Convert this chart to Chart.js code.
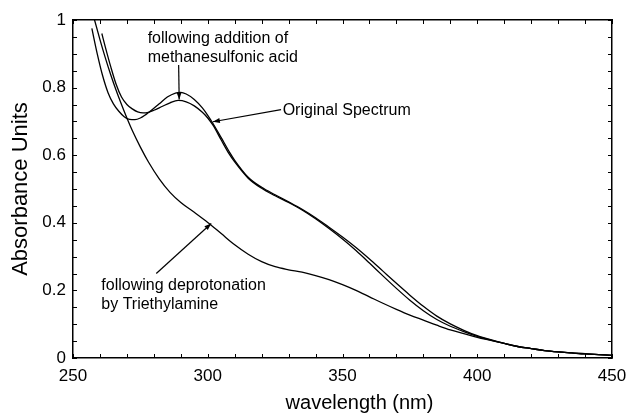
<!DOCTYPE html>
<html>
<head>
<meta charset="utf-8">
<script src="https://cdn.jsdelivr.net/npm/chart.js@4.4.1/dist/chart.umd.min.js"></script>
<style>
  html, body { margin: 0; padding: 0; background: #fff; }
  #wrap { width: 629px; height: 414px; }
</style>
</head>
<body>
<div id="wrap"><canvas id="spectrum"></canvas></div>
<script>
// wavelength (nm) / absorbance pairs
const originalNm = [260.7, 262, 264, 266, 268, 270, 272, 274, 276, 278, 280, 283, 286, 289, 292, 295, 298, 300, 302, 305, 308, 310, 315, 320, 325, 330, 335, 340, 345, 350, 355, 360, 365, 370, 375, 380, 385, 390, 395, 400, 405, 410, 415, 420, 425, 430, 435, 440, 445, 450];
const originalAbs = [0.96, 0.92, 0.862, 0.81, 0.772, 0.75, 0.737, 0.728, 0.725, 0.727, 0.733, 0.744, 0.755, 0.762, 0.758, 0.746, 0.727, 0.71, 0.688, 0.645, 0.603, 0.58, 0.532, 0.502, 0.48, 0.46, 0.438, 0.412, 0.383, 0.352, 0.318, 0.281, 0.243, 0.206, 0.171, 0.14, 0.114, 0.094, 0.078, 0.064, 0.053, 0.043, 0.034, 0.028, 0.022, 0.018, 0.015, 0.012, 0.01, 0.008];

const acidNm = [257, 259, 261, 263, 265, 267, 269, 271, 273, 275, 277, 279, 282, 285, 288, 290, 292, 295, 298, 300, 302, 305, 308, 310, 315, 320, 325, 330, 335, 340, 345, 350, 355, 360, 365, 370, 375, 380, 385, 390, 395, 400, 405, 410, 415, 420, 425, 430, 435, 440, 445, 450];
const acidAbs = [0.975, 0.9, 0.835, 0.785, 0.752, 0.73, 0.714, 0.706, 0.705, 0.71, 0.72, 0.732, 0.752, 0.772, 0.784, 0.786, 0.781, 0.765, 0.74, 0.718, 0.693, 0.652, 0.61, 0.585, 0.535, 0.505, 0.483, 0.462, 0.44, 0.415, 0.387, 0.358, 0.327, 0.293, 0.257, 0.221, 0.186, 0.153, 0.124, 0.101, 0.082, 0.066, 0.054, 0.043, 0.034, 0.028, 0.022, 0.018, 0.015, 0.012, 0.01, 0.008];

const baseNm = [257, 258, 260, 262, 264, 266, 268, 270, 272, 275, 278, 282, 286, 290, 295, 300, 305, 310, 315, 320, 325, 330, 335, 340, 345, 350, 355, 360, 365, 370, 375, 380, 385, 390, 395, 400, 405, 410, 415, 420, 425, 430, 435, 440, 445, 450];
const baseAbs = [1.03, 1.0, 0.942, 0.888, 0.838, 0.792, 0.75, 0.71, 0.673, 0.624, 0.58, 0.53, 0.49, 0.46, 0.431, 0.401, 0.368, 0.335, 0.307, 0.285, 0.27, 0.261, 0.254, 0.244, 0.232, 0.217, 0.2, 0.181, 0.162, 0.144, 0.127, 0.112, 0.097, 0.083, 0.072, 0.061, 0.052, 0.043, 0.034, 0.028, 0.022, 0.018, 0.015, 0.013, 0.01, 0.008];

const xTicks = [250, 300, 350, 400, 450];
const yTicks = [0, 0.2, 0.4, 0.6, 0.8, 1];

// callouts placed in data coordinates
const callouts = [
  { lines: ["following addition of", "methanesulfonic acid"], at: [277.7, 0.945], from: [289.2, 0.867], to: [289.4, 0.765] },
  { lines: ["Original Spectrum"], at: [327.8, 0.733], from: [327.2, 0.735], to: [301.9, 0.699] },
  { lines: ["following deprotonation", "by Triethylamine"], at: [260.5, 0.215], from: [280.9, 0.25], to: [301.3, 0.398] },
];

const FONT = "'Liberation Sans', Arial, Helvetica, sans-serif";

function toPoints(xs, ys) {
  return xs.map((x, i) => ({ x: x, y: ys[i] }));
}

function pickLabel(list) {
  return function (v) {
    const hit = list.find(t => Math.abs(t - v) < 1e-6);
    return hit === undefined ? "" : String(hit);
  };
}

// short inward tick marks on all four sides, taken from each scale's ticks
const innerTicks = {
  id: "innerTicks",
  afterDraw(chart) {
    const { ctx, chartArea: a, scales } = chart;
    const len = 4;
    ctx.save();
    ctx.strokeStyle = "#000";
    ctx.lineWidth = 1;
    ctx.beginPath();
    [["x", a.bottom, -1], ["x2", a.top, 1]].forEach(([id, y0, dir]) => {
      scales[id].ticks.forEach(t => {
        const p = Math.round(scales[id].getPixelForValue(t.value)) + 0.5;
        ctx.moveTo(p, y0);
        ctx.lineTo(p, y0 + dir * len);
      });
    });
    [["y", a.left, 1], ["y2", a.right, -1]].forEach(([id, x0, dir]) => {
      scales[id].ticks.forEach(t => {
        const p = Math.round(scales[id].getPixelForValue(t.value)) + 0.5;
        ctx.moveTo(x0, p);
        ctx.lineTo(x0 + dir * len, p);
      });
    });
    ctx.stroke();
    // x axis title sits a little right of centre in the original
    ctx.fillStyle = "#000";
    ctx.font = "20px " + FONT;
    ctx.textAlign = "center";
    ctx.textBaseline = "middle";
    ctx.fillText("wavelength (nm)", (a.left + a.right) / 2 + 17, chart.height - 11);
    ctx.restore();
  },
};

const calloutPlugin = {
  id: "callouts",
  afterDatasetsDraw(chart) {
    const { ctx, scales } = chart;
    const px = (p) => [scales.x.getPixelForValue(p[0]), scales.y.getPixelForValue(p[1])];
    ctx.save();
    ctx.fillStyle = "#000";
    ctx.strokeStyle = "#000";
    ctx.lineWidth = 1.2;
    ctx.font = "16px " + FONT;
    ctx.textBaseline = "middle";
    ctx.textAlign = "left";
    callouts.forEach(c => {
      const [tx, ty] = px(c.at);
      c.lines.forEach((s, i) => ctx.fillText(s, tx, ty + i * 19.5));
      const [x1, y1] = px(c.from);
      const [x2, y2] = px(c.to);
      ctx.beginPath();
      ctx.moveTo(x1, y1);
      ctx.lineTo(x2, y2);
      ctx.stroke();
      const a = Math.atan2(y2 - y1, x2 - x1);
      ctx.beginPath();
      ctx.moveTo(x2, y2);
      ctx.lineTo(x2 - 7 * Math.cos(a) + 2.5 * Math.sin(a), y2 - 7 * Math.sin(a) - 2.5 * Math.cos(a));
      ctx.lineTo(x2 - 7 * Math.cos(a) - 2.5 * Math.sin(a), y2 - 7 * Math.sin(a) + 2.5 * Math.cos(a));
      ctx.closePath();
      ctx.fill();
    });
    ctx.restore();
  },
};

const noGrid = { display: false, drawTicks: false };
const frameBorder = { display: true, color: "#000", width: 1.5 };

function curve(label, xs, ys) {
  return {
    label: label,
    data: toPoints(xs, ys),
    borderColor: "#000",
    borderWidth: 1.3,
    pointRadius: 0,
    fill: false,
    cubicInterpolationMode: "monotone",
    clip: 0,
  };
}

new Chart(document.getElementById("spectrum"), {
  type: "line",
  data: {
    datasets: [
      curve("Original Spectrum", originalNm, originalAbs),
      curve("following addition of methanesulfonic acid", acidNm, acidAbs),
      curve("following deprotonation by Triethylamine", baseNm, baseAbs),
    ],
  },
  options: {
    responsive: true,
    maintainAspectRatio: false,
    animation: false,
    layout: { padding: { left: 8, top: 20, right: 17, bottom: 0 } },
    plugins: { legend: { display: false }, tooltip: { enabled: false } },
    scales: {
      x: {
        type: "linear",
        position: "bottom",
        min: 250,
        max: 450,
        ticks: { stepSize: 10, autoSkip: false, maxRotation: 0, padding: 8, color: "#000", font: { family: FONT, size: 17 }, callback: pickLabel(xTicks) },
        grid: noGrid,
        border: frameBorder,
        afterFit(s) { s.height = 56; s.paddingLeft = 0; s.paddingRight = 0; },
      },
      y: {
        type: "linear",
        position: "left",
        min: 0,
        max: 1,
        ticks: { stepSize: 0.05, autoSkip: false, padding: 7, color: "#000", font: { family: FONT, size: 17 }, callback: pickLabel(yTicks) },
        grid: noGrid,
        border: frameBorder,
        title: { display: true, text: "Absorbance Units", color: "#000", font: { family: FONT, size: 22 }, padding: 0 },
        afterFit(s) { s.width = 65; s.paddingTop = 0; s.paddingBottom = 0; },
      },
      x2: {
        type: "linear",
        position: "top",
        min: 250,
        max: 450,
        ticks: { stepSize: 10, autoSkip: false, display: false },
        grid: noGrid,
        border: frameBorder,
        afterFit(s) { s.height = 0; s.paddingLeft = 0; s.paddingRight = 0; },
      },
      y2: {
        type: "linear",
        position: "right",
        min: 0,
        max: 1,
        ticks: { stepSize: 0.05, autoSkip: false, display: false },
        grid: noGrid,
        border: frameBorder,
        afterFit(s) { s.width = 0; s.paddingTop = 0; s.paddingBottom = 0; },
      },
    },
  },
  plugins: [innerTicks, calloutPlugin],
});
</script>
</body>
</html>
